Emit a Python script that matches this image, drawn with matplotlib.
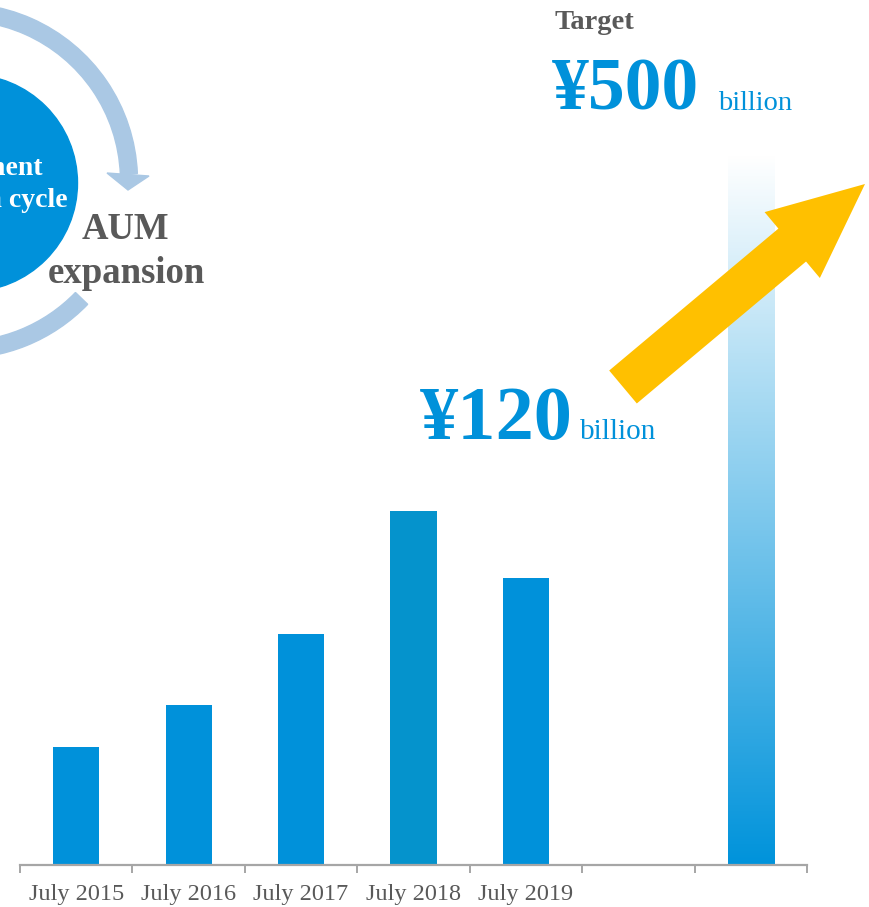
import numpy as np
import matplotlib
matplotlib.use("Agg")
import matplotlib.pyplot as plt
import matplotlib.patches as mpatches
from matplotlib.colors import to_rgb

plt.rcParams["font.family"] = ["Liberation Serif", "DejaVu Serif"]

# AUM history (index units) and the target bar
periods = ["July 2015", "July 2016", "July 2017", "July 2018", "July 2019", "", ""]
aum = [83, 113, 163, 249, 202]
target = 500
current_label = 120

BLUE = "#0091da"
BLUE_2018 = "#0593cc"
GRAY = "#595959"
AXIS_GRAY = "#a6a6a6"
RING = "#aac8e4"
YELLOW = "#ffc000"

W, H = 870, 907
fig = plt.figure(figsize=(W / 100, H / 100), dpi=100)

# main bar axes
ax = fig.add_axes([20 / W, 42 / H, 787 / W, 865 / H])
bar_w = 0.41
colors = [BLUE, BLUE, BLUE, BLUE_2018, BLUE]
ax.bar(range(len(aum)), aum, width=bar_w, color=colors, zorder=2)

# gradient bar for the target
tx = len(periods) - 1
t = np.linspace(0, 1, 256)[:, None]
base = np.array(to_rgb("#0093db"))
grad = base[None, None, :] * (1 - t[:, :, None]) + np.ones(3)[None, None, :] * t[:, :, None]
ax.imshow(grad, extent=[tx - bar_w / 2, tx + bar_w / 2, 0, target],
          origin="lower", aspect="auto", zorder=2, interpolation="bilinear")
ax.set_xlim(-0.5, len(periods) - 0.5)
ax.set_ylim(0, target * 865 / 710)

for side in ["top", "right", "left"]:
    ax.spines[side].set_visible(False)
ax.spines["bottom"].set_color(AXIS_GRAY)
ax.spines["bottom"].set_linewidth(1.6)
ax.set_yticks([])
ax.set_xticks(range(len(periods)))
ax.set_xticklabels(periods, fontsize=17.5, color=GRAY)
ax.tick_params(axis="x", which="major", length=0, pad=14)
ax.set_xticks(np.arange(-0.5, len(periods)), minor=True)
ax.tick_params(axis="x", which="minor", length=6, width=1.4, color=AXIS_GRAY)
ax.patch.set_alpha(0)

# overlay in pixel coordinates for the cycle graphic, arrow and captions
ov = fig.add_axes([0, 0, 1, 1], zorder=3)
ov.set_xlim(0, W)
ov.set_ylim(H, 0)
ov.axis("off")
ov.patch.set_alpha(0)

ov.add_patch(mpatches.Circle((-31, 183), 108.5, color=BLUE))
ov.add_patch(mpatches.Wedge((-40, 181), 177.5, -130, -2.4, width=17, color=RING))
ov.add_patch(mpatches.Wedge((-40, 181), 177.5, 44, 140, width=17, color=RING))
ov.add_patch(mpatches.Polygon([(107, 173), (149, 176), (128, 190)], closed=True, color=RING))

ov.text(43, 175, "Investment", color="white", fontsize=20, fontweight="bold",
        ha="right", va="baseline")
ov.text(68, 207, "Growth cycle", color="white", fontsize=20, fontweight="bold",
        ha="right", va="baseline")
ov.text(125, 239, "AUM", color=GRAY, fontsize=26.5, fontweight="bold",
        ha="center", va="baseline")
ov.text(126, 283, "expansion", color=GRAY, fontsize=26.5, fontweight="bold",
        ha="center", va="baseline")

# growth arrow
ov.add_patch(mpatches.FancyArrow(623, 387, 865 - 623, 184 - 387, width=43,
                                 head_width=86, head_length=95,
                                 length_includes_head=True, color=YELLOW, lw=0))

ov.text(594, 29, "Target", color=GRAY, fontsize=20.5, fontweight="bold",
        ha="center", va="baseline")
ov.text(552, 110, f"¥{target}", color=BLUE, fontsize=53, fontweight="bold",
        ha="left", va="baseline")
ov.text(718, 110, "billion", color=BLUE, fontsize=20.5, ha="left", va="baseline")
ov.text(420, 439, f"¥{current_label}", color=BLUE, fontsize=55, fontweight="bold",
        ha="left", va="baseline")
ov.text(580, 439, "billion", color=BLUE, fontsize=21, ha="left", va="baseline")

fig.savefig("out.png", dpi=100)
